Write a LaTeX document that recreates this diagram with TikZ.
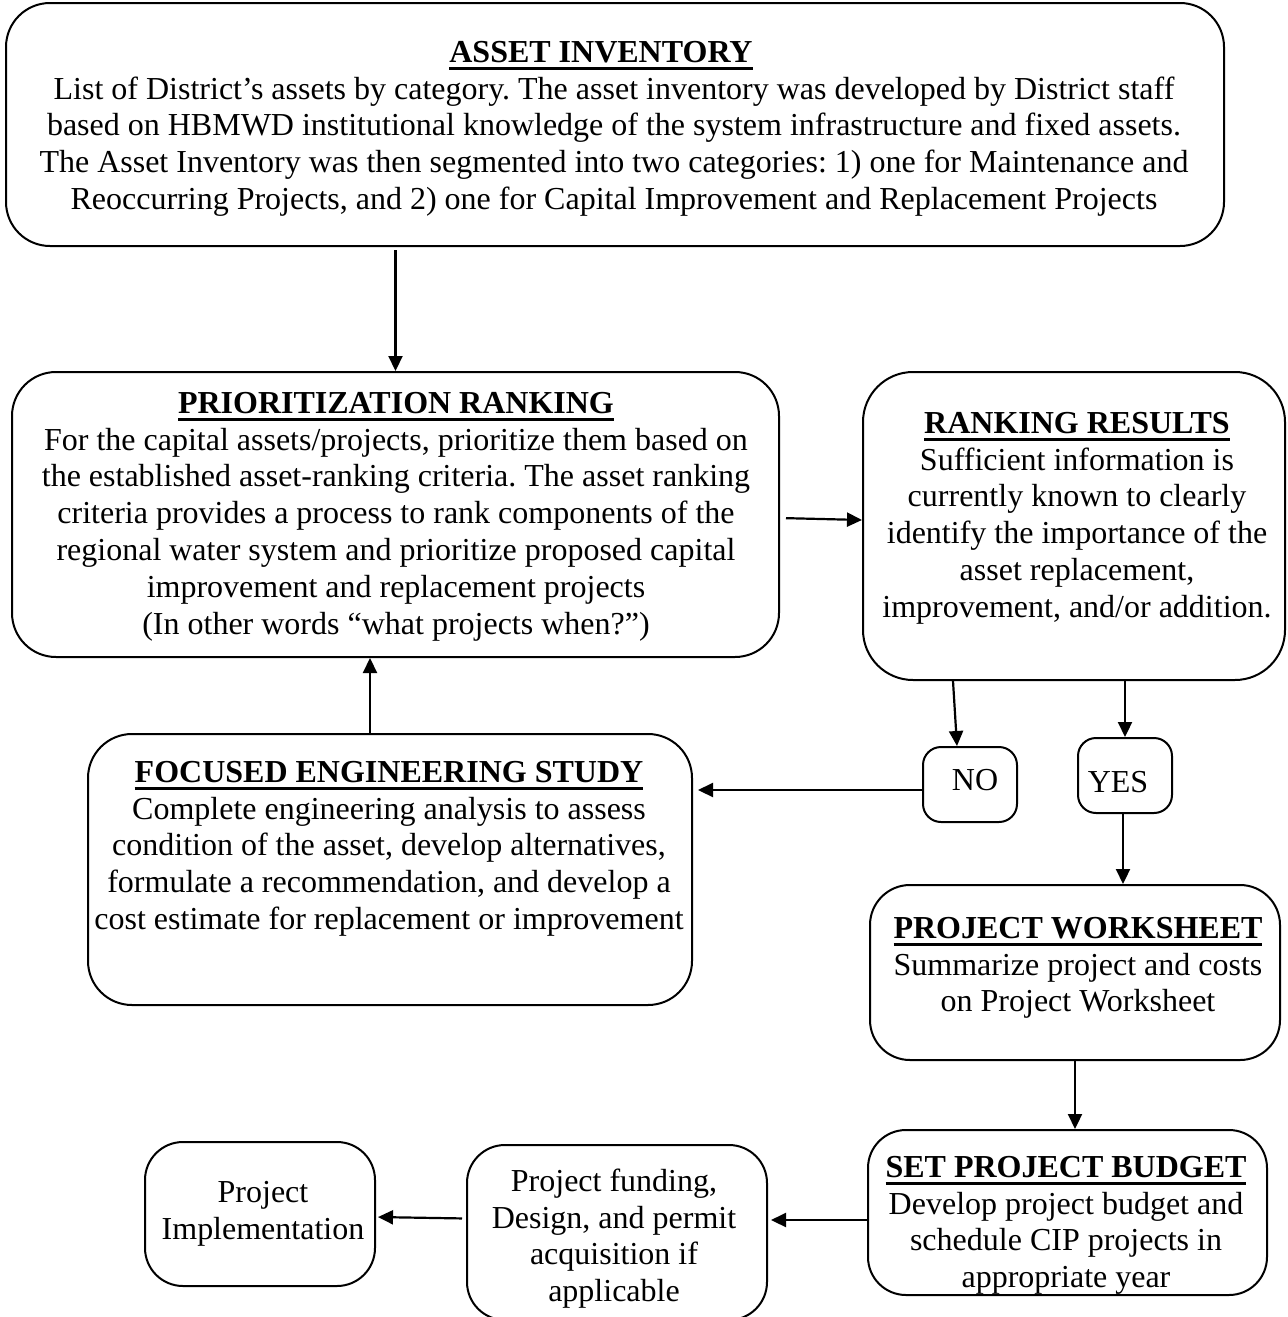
\documentclass[tikz,border=0pt]{standalone}
\usepackage{fontspec}
\setmainfont{Liberation Serif}
\usetikzlibrary{arrows.meta}
\frenchspacing
\newsavebox\ulbox
\newcommand\myul[1]{\sbox\ulbox{#1}\rlap{\rule[-3.6pt]{\wd\ulbox}{1.3pt}}\usebox\ulbox}
\tikzset{
  box/.style={draw, line width=1pt, inner sep=0pt},
  txt/.style={align=center, inner sep=0pt, anchor=north, font=\fontsize{16}{18.4}\selectfont\frenchspacing},
  arr/.style={-{Triangle[length=7.5pt,width=7pt]}, line width=1.1pt}
}
\begin{document}
\begin{tikzpicture}[x=0.5pt,y=-0.5pt]
\useasboundingbox (0,0) rectangle (1287,1317);
\clip (0,0) rectangle (1287,1317);
% boxes
\node[box, minimum width=609pt, minimum height=121.5pt, rounded corners=22pt] (asset) at (615,124.5) {};
\node[box, minimum width=383.5pt, minimum height=142.5pt, rounded corners=22pt] (prior) at (395.5,514.5) {};
\node[box, minimum width=211pt, minimum height=154pt, rounded corners=25pt] (rank) at (1074,526) {};
\node[box, minimum width=47pt, minimum height=37.5pt, rounded corners=9pt] (no) at (970,784.5) {};
\node[box, minimum width=47pt, minimum height=37.5pt, rounded corners=9pt] (yes) at (1125,775.5) {};
\node[box, minimum width=302pt, minimum height=135.5pt, rounded corners=22pt] (focused) at (390,869.5) {};
\node[box, minimum width=205pt, minimum height=87.5pt, rounded corners=20pt] (worksheet) at (1075,972.5) {};
\node[box, minimum width=199.5pt, minimum height=82.5pt, rounded corners=19pt] (budget) at (1067.5,1212.5) {};
\node[box, minimum width=150pt, minimum height=87.5pt, rounded corners=19pt] (funding) at (617,1232.5) {};
\node[box, minimum width=115pt, minimum height=72pt, rounded corners=19pt] (impl) at (260,1214) {};
% texts
\node[txt] (assetT) at (614,36.2) {\strut\myul{\textbf{ASSET INVENTORY}}\hbox to 13pt{}\\
List of District’s assets by category. The asset inventory was developed by District staff\\
based on HBMWD institutional knowledge of the system infrastructure and fixed assets.\\
The Asset Inventory was then segmented into two categories: 1) one for Maintenance and\\
Reoccurring Projects, and 2) one for Capital Improvement and Replacement Projects};
\node[txt] (priorT) at (396,387.2) {\strut\myul{\textbf{PRIORITIZATION RANKING}}\\
For the capital assets/projects, prioritize them based on\\
the established asset-ranking criteria. The asset ranking\\
criteria provides a process to rank components of the\\
regional water system and prioritize proposed capital\\
improvement and replacement projects\\
(In other words “what projects when?”)};
\node[txt] (rankT) at (1077,407.2) {\strut\myul{\textbf{RANKING RESULTS}}\\
Sufficient information is\\
currently known to clearly\\
identify the importance of the\\
asset replacement,\\
improvement, and/or addition.};
\node[txt] (noT) at (975,764.2) {\strut NO};
\node[txt] (yesT) at (1118,766.2) {\strut YES};
\node[txt] (focusedT) at (389,756.2) {\strut\myul{\textbf{FOCUSED ENGINEERING STUDY}}\\
Complete engineering analysis to assess\\
condition of the asset, develop alternatives,\\
formulate a recommendation, and develop a\\
cost estimate for replacement or improvement};
\node[txt] (worksheetT) at (1078,912.2) {\strut\myul{\textbf{PROJECT WORKSHEET}}\\
Summarize project and costs\\
on Project Worksheet};
\node[txt] (budgetT) at (1066,1151.2) {\strut\myul{\textbf{SET PROJECT BUDGET}}\\
Develop project budget and\\
schedule CIP projects in\\
appropriate year};
\node[txt] (fundingT) at (614,1165.2) {\strut Project funding,\\
Design, and permit\\
acquisition if\\
applicable};
\node[txt] (implT) at (263,1176.2) {\strut Project\\
Implementation};
% connectors
\draw[arr, shorten <=1.5pt] (asset.south -| prior.north) -- (prior.north);
\draw[arr, shorten <=3pt] ([yshift=-1.75pt]prior.east) -- ([yshift=3pt]rank.west);
\draw[arr] ([xshift=-60.5pt]rank.south) -- ([xshift=-6.5pt]no.north);
\draw[arr] (rank.south -| yes.north) -- (yes.north);
\draw[arr, shorten >=2.5pt] ([yshift=-2.75pt]no.west) -- ([yshift=-2.75pt]no.west -| focused.east);
\draw[arr] ([xshift=-10pt]focused.north) -- ([xshift=-10pt]focused.north |- prior.south);
\draw[arr] ([xshift=-1pt]yes.south) -- ([xshift=-1pt]yes.south |- worksheet.north);
\draw[arr] (worksheet.south) -- (worksheet.south |- budget.north);
\draw[arr, shorten >=1.5pt] ([yshift=-3.75pt]budget.west) -- ([yshift=-3.75pt]budget.west -| funding.east);
\draw[arr, shorten <=2pt, shorten >=1pt] ([yshift=7pt]funding.west) -- ([yshift=-1.5pt]impl.east);
\end{tikzpicture}
\end{document}
